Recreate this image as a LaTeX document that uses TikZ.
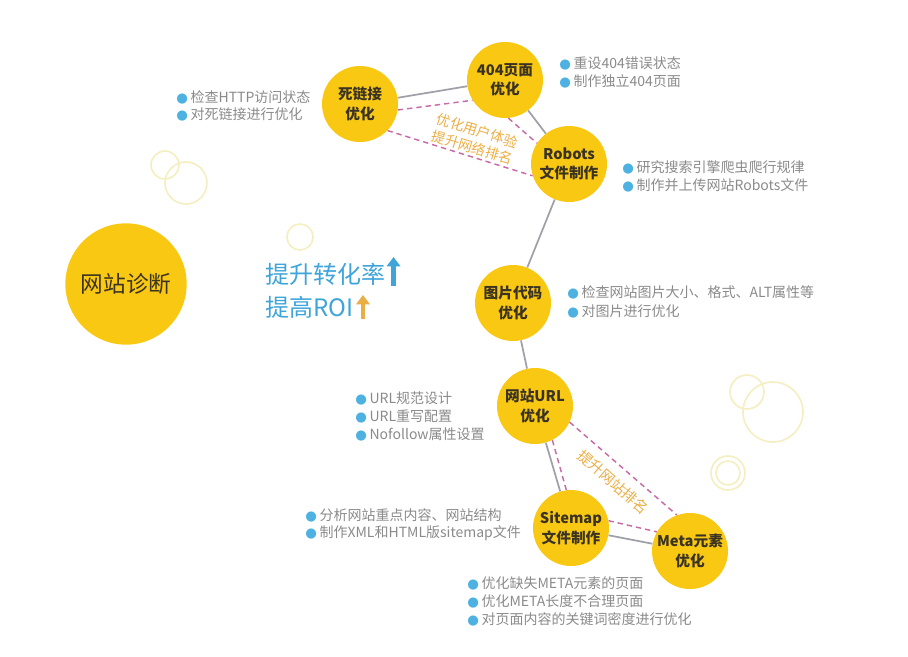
\documentclass[tikz,border=0pt]{standalone}
\usepackage{fontspec}
\setmainfont{Noto Sans CJK SC}
\newfontfamily\dejavu{DejaVu Sans}
\usetikzlibrary{arrows.meta}
\definecolor{cyel}{HTML}{F9C813}
\definecolor{ctxt}{HTML}{3A3222}
\definecolor{cgray}{HTML}{8A8A8A}
\definecolor{cline}{HTML}{A0A0A8}
\definecolor{cdash}{HTML}{C96BA6}
\definecolor{corange}{HTML}{EBAE45}
\definecolor{cblue}{HTML}{3EA4DA}
\definecolor{bblue}{HTML}{4DB2E2}
\definecolor{cdeco}{HTML}{F4EEC0}
\newcommand{\bul}{{\color{bblue}\dejavu\fontsize{10}{10}\selectfont ●}\hspace{2pt}}
\begin{document}
\begin{tikzpicture}[x=0.75pt,y=-0.75pt,
  ball/.style={circle,fill=cyel,minimum size=57pt,inner sep=0pt,align=center,
    text=ctxt,font=\fontsize{11}{14.5}\selectfont\bfseries},
  bigball/.style={circle,fill=cyel,minimum size=91pt,inner sep=0pt,text=ctxt,
    font=\fontsize{17}{20}\selectfont},
  item/.style={anchor=west,inner sep=0pt,text=cgray,font=\fontsize{10.5}{12}\selectfont},
  link/.style={cline,line width=1.3pt},
  dlink/.style={cdash,line width=1.1pt,dash pattern=on 4pt off 3pt},
  dlabel/.style={text=corange,align=center,inner sep=0pt,font=\fontsize{10.5}{13}\selectfont},
  deco/.style={cdeco,line width=1.2pt},
  gain/.style={anchor=west,inner sep=0pt,text=cblue,font=\fontsize{18}{20}\selectfont}]
\useasboundingbox (0,0) rectangle (908,657);
% decorative rings
\draw[deco] (165,165) circle (14);
\draw[deco] (186,183) circle (21);
\draw[deco] (300,237) circle (13);
\draw[deco] (747,392) circle (17);
\draw[deco] (773,412) circle (30);
\draw[deco] (728,473) circle (17);
\draw[deco] (728,473) circle (12);
% nodes
\node[bigball] (diag) at (126,284) {网站诊断};
\node[ball] (dead) at (360,104) {死链接\\优化};
\node[ball] (p404) at (505,80) {404页面\\优化};
\node[ball] (robots) at (569,164) {Robots\\文件制作};
\node[ball] (img) at (513,303) {图片代码\\优化};
\node[ball] (url) at (535,406) {网站URL\\优化};
\node[ball] (sitemap) at (571,528) {Sitemap\\文件制作};
\node[ball] (meta) at (690,551) {Meta元素\\优化};
% solid links
\draw[link] (dead) -- (p404);
\draw[link] (p404) -- (robots);
\draw[link] (robots) -- (img);
\draw[link] (img) -- (url);
\draw[link] (url) -- (sitemap);
\draw[link] (sitemap) -- (meta);
% dashed links
\draw[dlink] (dead.-9) -- (p404.212);
\draw[dlink] (dead.-44) -- (robots.198);
\draw[dlink] (p404.-85) -- (robots.147);
\draw[dlink] (url.-25) -- (meta.110);
\draw[dlink] (url.-63) -- (sitemap.97);
\draw[dlink] (sitemap.11) -- (meta.150);
\node[dlabel,rotate=-17] (lab1) at (475,139) {优化用户体验\\提升网络排名};
\node[dlabel,rotate=-41,font=\fontsize{11}{13}\selectfont] (lab2) at (613,482) {提升网站排名};
% bullet lists
\node[item] (a1) at (176,97) {\bul 检查HTTP访问状态};
\node[item] (a2) at (176,114) {\bul 对死链接进行优化};
\node[item] (b1) at (559,63) {\bul 重设404错误状态};
\node[item] (b2) at (559,81) {\bul 制作独立404页面};
\node[item] (c1) at (622,167) {\bul 研究搜索引擎爬虫爬行规律};
\node[item] (c2) at (622,185) {\bul 制作并上传网站Robots文件};
\node[item] (d1) at (567,292) {\bul 检查网站图片大小、格式、ALT属性等};
\node[item] (d2) at (567,311) {\bul 对图片进行优化};
\node[item] (e1) at (355,398) {\bul URL规范设计};
\node[item] (e2) at (355,416) {\bul URL重写配置};
\node[item] (e3) at (355,434) {\bul Nofollow属性设置};
\node[item] (f1) at (305,515) {\bul 分析网站重点内容、网站结构};
\node[item] (f2) at (305,533) {\bul 制作XML和HTML版sitemap文件};
\node[item] (g1) at (467,583) {\bul 优化缺失META元素的页面};
\node[item] (g2) at (467,601) {\bul 优化META长度不合理页面};
\node[item] (g3) at (467,619) {\bul 对页面内容的关键词密度进行优化};
% gains
\node[gain] (gain1) at (265,274) {提升转化率};
\node[gain] (gain2) at (265,307) {提高ROI};
\draw[cblue,line width=3.2pt,-{Triangle[width=10pt,length=7pt]}] ([xshift=6pt]gain1.east |- 0,286) -- ([xshift=6pt]gain1.east |- 0,257);
\draw[corange,line width=3.2pt,-{Triangle[width=10pt,length=7pt]}] ([xshift=7pt]gain2.east |- 0,319) -- ([xshift=7pt]gain2.east |- 0,295);
\end{tikzpicture}
\end{document}
